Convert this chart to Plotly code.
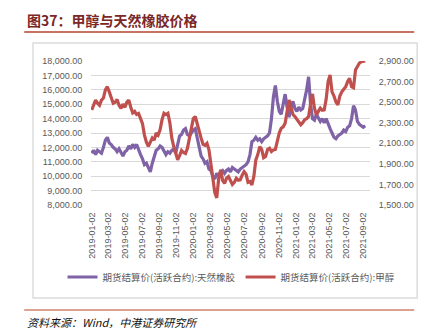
import pandas as pd
import plotly.graph_objects as go

# ---- data (weekly readings from the reference) ----
start_date = "2019-01-02"
rubber = [11600, 11800, 11500, 11800, 11700, 11600, 12000, 12500, 12700, 12300,
          12200, 12000, 11900, 11700, 11900, 11600, 11400, 11700, 11800, 12100,
          11900, 12200, 12000, 12200, 11800, 11500, 11200, 10800, 10900, 10600,
          10300, 10900, 11400, 11800, 11900, 12100, 12000, 11700, 11500, 11700,
          11600, 11800, 11900, 11600, 12200, 12800, 12900, 13200, 13300, 12900,
          12800, 13000, 13200, 13300, 12600, 12000, 11400, 11200, 10900, 11000,
          10500, 10400, 10000, 9800, 10200, 10000, 10300, 10400, 10200, 10400,
          10500, 10300, 10600, 10500, 10400, 10300, 10500, 10600, 10700, 10800,
          11000, 11500, 12400, 12500, 12700, 12500, 12600, 12400, 12600, 12700,
          12800, 13000, 14000, 15500, 16300, 15200, 14500, 14300, 15000, 15700,
          14800, 14100, 14800, 15200, 14700, 14500, 14800, 14600, 14700, 15300,
          16000, 16900, 15000, 14000, 13900, 14300, 14000, 13800, 14000, 13700,
          14000, 13600, 13300, 13000, 12700, 12600, 12800, 12900, 13000, 13200,
          13100, 13400, 13500, 14000, 14900, 14600, 13800, 13600, 13500, 13400,
          13500]
methanol = [2424, 2470, 2520, 2490, 2470, 2520, 2540, 2620, 2650, 2600,
            2540, 2490, 2500, 2525, 2470, 2440, 2480, 2450, 2500, 2520,
            2450, 2395, 2410, 2380, 2390, 2330, 2290, 2180, 2110, 2070,
            2110, 2150, 2130, 2200, 2180, 2230, 2330, 2392, 2380, 2392,
            2300, 2150, 2068, 2000, 1940, 1980, 2030, 2010, 2000, 2050,
            2150, 2280, 2340, 2360, 2280, 2200, 2150, 2090, 2080, 2100,
            2036, 1900, 1780, 1620, 1569, 1760, 1842, 1740, 1710, 1760,
            1777, 1740, 1700, 1720, 1760, 1740, 1745, 1790, 1825, 1800,
            1720, 1728, 1696, 1780, 1939, 1990, 2068, 2040, 1960, 1971,
            2040, 2052, 2020, 2036, 2040, 2120, 2200, 2246, 2260, 2295,
            2400, 2521, 2450, 2380, 2360, 2330, 2300, 2280, 2300, 2330,
            2340, 2360, 2480, 2580, 2440, 2376, 2410, 2441, 2420, 2424,
            2530, 2700, 2764, 2600, 2560, 2500, 2473, 2560, 2600, 2630,
            2651, 2700, 2732, 2650, 2640, 2813, 2850, 2880, 2893, 2900,
            2900]
dates = pd.date_range(start_date, periods=len(rubber), freq="7D")

name_rubber = "期货结算价(活跃合约):天然橡胶"
name_methanol = "期货结算价(活跃合约):甲醇"
title_text = "<b>图37：甲醇与天然橡胶价格</b>"
source_text = "<i>资料来源：Wind，中港证券研究所</i>"

W, H = 426, 334
L, R, T, B = 91, 375, 61, 205


def px(x):
    return (x - L) / (R - L)


def py(y):
    return (B - y) / (B - T)


fig = go.Figure()
fig.add_trace(go.Scatter(x=dates, y=rubber, name=name_rubber, mode="lines",
                         line=dict(color="#7f63a6", width=3.2)))
fig.add_trace(go.Scatter(x=dates, y=methanol, name=name_methanol, mode="lines",
                         yaxis="y2", line=dict(color="#c0504d", width=3.2)))

tick_font = dict(family="Liberation Sans, Arial", size=9, color="#595959")
cjk = "Noto Sans CJK SC"

fig.update_layout(
    width=W, height=H,
    margin=dict(l=L, r=W - R, t=T, b=H - B),
    paper_bgcolor="white", plot_bgcolor="white",
    showlegend=True,
    legend=dict(orientation="h", x=px(62), xanchor="left", y=py(277), yanchor="middle",
                font=dict(family=cjk, size=9.5, color="#595959"),
                bgcolor="rgba(0,0,0,0)"),
    xaxis=dict(type="date", range=["2018-12-30 12:00", "2021-09-25"],
               tick0=start_date, dtick="M2", tickformat="%Y-%m-%d", tickangle=-90,
               showgrid=False, zeroline=False, showline=False,
               ticks="outside", ticklen=3, tickcolor="rgba(0,0,0,0)",
               tickfont=tick_font),
    yaxis=dict(range=[8000, 18000], tick0=8000, dtick=1000, tickformat=",.2f",
               showgrid=True, gridcolor="#d9d9d9", gridwidth=1, zeroline=False,
               showline=False, ticks="outside", ticklen=6, tickcolor="rgba(0,0,0,0)",
               tickfont=tick_font),
    yaxis2=dict(range=[1500, 2900], tick0=1500, dtick=200, tickformat=",.2f",
                overlaying="y", side="right", showgrid=False, zeroline=False,
                showline=False, ticks="outside", ticklen=6, tickcolor="rgba(0,0,0,0)",
                tickfont=tick_font),
)

shapes = [
    dict(type="line", xref="paper", yref="paper", x0=px(23), x1=px(420), y0=py(32), y1=py(32),
         line=dict(color="#b5432f", width=1.5)),
    dict(type="rect", xref="paper", yref="paper", x0=px(32), x1=px(423), y0=py(43), y1=py(298),
         line=dict(color="#dcdcdc", width=1.5), layer="below"),
    dict(type="line", xref="paper", yref="paper", x0=px(23), x1=px(420), y0=py(310), y1=py(310),
         line=dict(color="#dba191", width=2)),
]
fig.update_layout(shapes=shapes)

fig.add_annotation(text=title_text, xref="paper", yref="paper", x=px(24), y=py(20),
                   xanchor="left", yanchor="middle", showarrow=False,
                   font=dict(family=cjk, size=14, color="#7a2727"))
fig.add_annotation(text=source_text, xref="paper", yref="paper", x=px(24), y=py(322),
                   xanchor="left", yanchor="middle", showarrow=False,
                   font=dict(family=cjk, size=11, color="#111111"))

fig.write_html("out.html")
